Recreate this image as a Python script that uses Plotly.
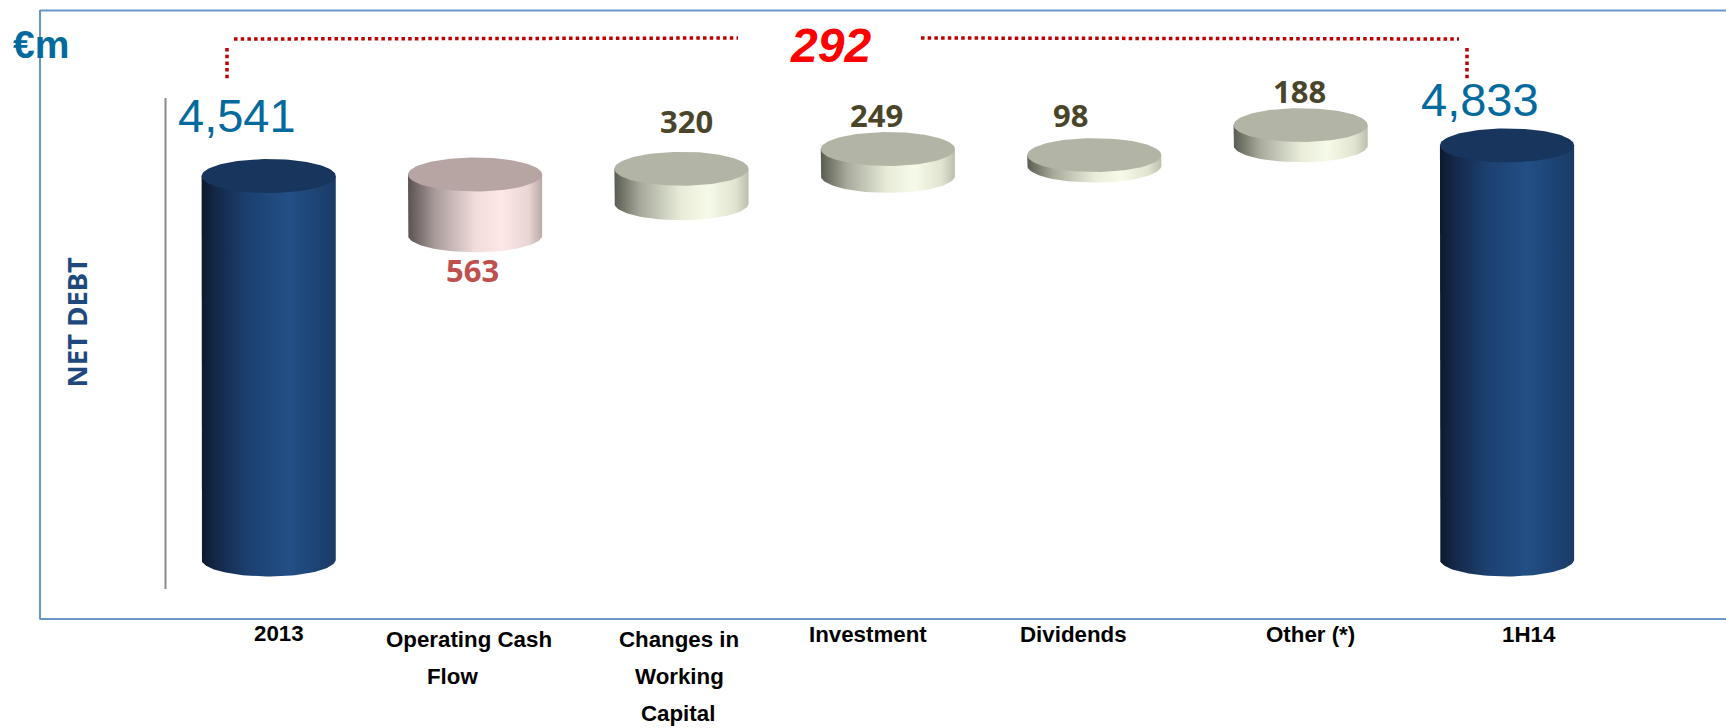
import numpy as np
import plotly.graph_objects as go

W, H = 1726, 728

# ---- data ----
categories = ["2013", "Operating Cash Flow", "Changes in Working Capital",
              "Investment", "Dividends", "Other (*)", "1H14"]
values = [4541, 563, 320, 249, 98, 188, 4833]
value_labels = ["4,541", "563", "320", "249", "98", "188", "4,833"]
# top of each cylinder as read on the (hidden) value axis
tops = [4541, 4555, 4608, 4791, 4735, 5013, 4825]
# floor of the truncated axis, read from the base of the two totals
axis_floor = 990
kinds = ["total", "down", "up", "up", "up", "up", "total"]
change_label = "292"
unit_label = "€m"
side_label = "NET DEBT"

# ---- styles ----
PALETTE = {
    "total": dict(top="#17355d", scale=[[0, "#0c1a2e"], [.12, "#15294a"], [.35, "#1c4070"],
                                        [.65, "#234f85"], [.9, "#1c4170"], [1, "#1a3a63"]]),
    "down": dict(top="#b7a5a4", scale=[[0, "#5a5150"], [.2, "#a89b9a"], [.5, "#f0dcdb"],
                                       [.7, "#fee8e7"], [.9, "#e8d5d4"], [1, "#b9a9a8"]]),
    "up": dict(top="#b2b5a6", scale=[[0, "#585c51"], [.2, "#a9ac9d"], [.5, "#e8ecd9"],
                                     [.7, "#f6fae8"], [.9, "#e0e4d0"], [1, "#bbbfad"]]),
}
HALF_W = 0.325     # half cylinder width, in category units
RY = 157           # ellipse half height, in value units

X_RANGE = [-1.3018, 7.0609]
Y_RANGE = [-570, 6171]


def px(x):
    return x / W


def py(y):
    return 1 - y / H


fig = go.Figure()
theta = np.linspace(0, np.pi, 60)
for i, (val, top, kind) in enumerate(zip(values, tops, kinds)):
    low = axis_floor if kind == "total" else top - val
    style = PALETTE[kind]
    # side of the cylinder: straight edges + lower half of the base ellipse
    bx = np.concatenate([[i - HALF_W], i - HALF_W * np.cos(theta), [i + HALF_W]])
    by = np.concatenate([[top], low - RY * np.sin(theta), [top]])
    fig.add_trace(go.Scatter(
        x=bx, y=by, mode="lines", fill="toself", line=dict(width=0),
        fillgradient=dict(type="horizontal", colorscale=style["scale"]),
        name=categories[i], hoverinfo="skip", showlegend=False))
    # top cap
    t = np.linspace(0, 2 * np.pi, 120)
    fig.add_trace(go.Scatter(
        x=i + HALF_W * np.cos(t), y=top + RY * np.sin(t), mode="lines", fill="toself",
        fillcolor=style["top"], line=dict(width=0),
        name=categories[i], hoverinfo="skip", showlegend=False))

shapes = []


def seg(x0, y0, x1, y1, color, width, dash="solid"):
    shapes.append(dict(type="line", xref="paper", yref="paper",
                       x0=px(x0), y0=py(y0), x1=px(x1), y1=py(y1),
                       line=dict(color=color, width=width, dash=dash)))


FRAME = "#6a94c8"
seg(40, 10.5, W, 10.5, FRAME, 2)
seg(40, 10, 40, 619.5, FRAME, 2)
seg(40, 619, W, 619, FRAME, 2)
seg(165.5, 98, 165.5, 589, "#8a8a8a", 2)
RED = "#c00000"
DOTS = "3.5px,3.2px"
seg(234, 39, 738, 38, RED, 3.5, DOTS)
seg(921, 38, 1459, 39, RED, 3.5, DOTS)
seg(227, 48, 227, 79, RED, 3.5, DOTS)
seg(1467, 48, 1467, 79, RED, 3.5, DOTS)

annotations = []


def text(s, x, y, size, color, family="Liberation Sans", bold=False, italic=False, angle=0):
    t = s
    if bold:
        t = f"<b>{t}</b>"
    if italic:
        t = f"<i>{t}</i>"
    annotations.append(dict(text=t, x=px(x), y=py(y), xref="paper", yref="paper",
                            xanchor="center", yanchor="middle", showarrow=False,
                            textangle=angle,
                            font=dict(size=size, color=color, family=family)))


BLUE = "#036a9e"
OLIVE = "#4a452a"
text(unit_label, 41, 44, 39, BLUE, bold=True)
text(change_label, 830, 45, 48, "#ff0000", bold=True, italic=True)
text(side_label, 75.5, 322, 27.5, "#1f497d", family="Noto Sans", bold=True, angle=-90)

value_pos = [(237.5, 116), (472, 270), (686, 121), (876.5, 115), (1070, 115), (1299, 91), (1479.5, 100)]
value_style = [(47, BLUE, "Liberation Sans", False), (31, "#c0504d", "Noto Sans", True),
               (31, OLIVE, "Noto Sans", True), (31, OLIVE, "Noto Sans", True),
               (31, OLIVE, "Noto Sans", True), (31, OLIVE, "Noto Sans", True),
               (47, BLUE, "Liberation Sans", False)]
for lab, (x, y), (sz, col, fam, b) in zip(value_labels, value_pos, value_style):
    text(lab, x, y, sz, col, family=fam, bold=b)

# category labels, broken on the lines used by the reference
cat_lines = [["2013"], ["Operating Cash", "Flow"], ["Changes in", "Working", "Capital"],
             ["Investment"], ["Dividends"], ["Other (*)"], ["1H14"]]
cat_xs = [[279], [468.5, 452.5], [679, 679.5, 678], [868], [1073], [1310], [1528.5]]
cat_ys = [[633], [639, 676], [639, 676, 713.5], [634], [634], [634], [634]]
for lines, xs, ys in zip(cat_lines, cat_xs, cat_ys):
    for line, x, y in zip(lines, xs, ys):
        text(line, x, y, 22.3, "#000000", bold=True)

fig.update_layout(
    width=W, height=H, autosize=False,
    margin=dict(l=0, r=0, t=0, b=0),
    paper_bgcolor="white", plot_bgcolor="white",
    showlegend=False, shapes=shapes, annotations=annotations,
    xaxis=dict(range=X_RANGE, visible=False, fixedrange=True),
    yaxis=dict(range=Y_RANGE, visible=False, fixedrange=True),
)

fig.write_html("out.html", config={"displayModeBar": False},
               post_script="document.body.style.margin='0';document.body.style.overflow='hidden';")
